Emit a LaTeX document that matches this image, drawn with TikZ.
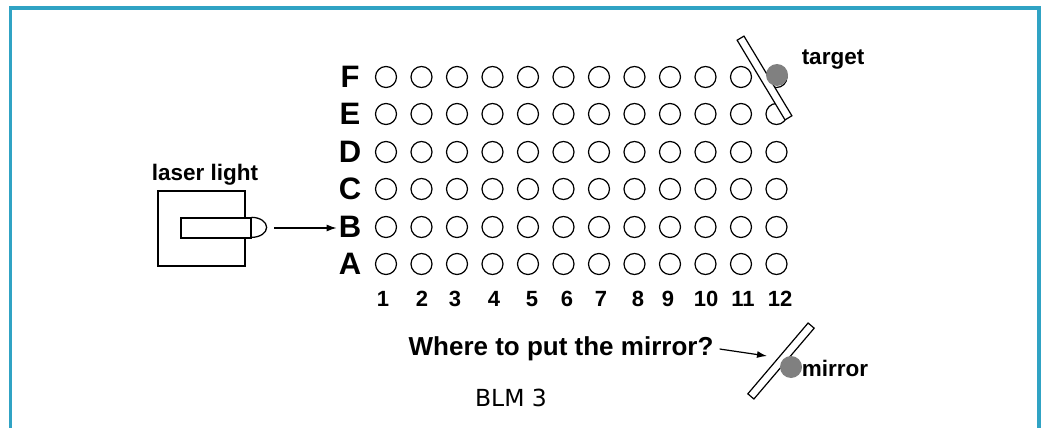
\documentclass[tikz,border=0pt]{standalone}
\usepackage{fontspec}
\setmainfont{Liberation Sans}
\newfontfamily\blmfont{DejaVu Sans}
\usetikzlibrary{arrows.meta}
\definecolor{frameteal}{RGB}{48,163,196}
\definecolor{dotgray}{RGB}{128,128,128}
\tikzset{
  hole/.style={circle, draw, line width=1.2pt, minimum size=21pt, inner sep=0pt},
  rowlabel/.style={font=\fontsize{31}{31}\selectfont\bfseries, inner sep=2pt},
  collabel/.style={font=\fontsize{22}{22}\selectfont\bfseries, inner sep=0pt},
  tag/.style={font=\fontsize{22.5}{22.5}\selectfont\bfseries, inner sep=0pt},
  mirrorbar/.style={draw, fill=white, line width=1.2pt, minimum width=93pt, minimum height=8pt, inner sep=0pt},
  graydot/.style={circle, fill=dotgray, minimum size=22pt, inner sep=0pt},
  beam/.style={line width=1.2pt, -{Latex[length=10pt,width=7pt]}}
}

\begin{document}
\begin{tikzpicture}[x=1pt, y=-1pt]
  \useasboundingbox (0,0) rectangle (1042,428);
  % frame
  \draw[frameteal, line width=3.6pt] (10.5,428) -- (10.5,8) -- (1039,8) -- (1039,428);

  % grid of holes
  \foreach \r/\y in {A/264,B/227,C/189,D/152,E/114,F/77} {
    \node[rowlabel] (lbl-\r) at (350,\y) {\r};
    \foreach \c in {1,...,12} {
      \ifnum\c=12 \ifx\r F\else
        \node[hole] (h-\r-\c) at ({386+35.5*(\c-1)},\y) {};
      \fi\else
        \node[hole] (h-\r-\c) at ({386+35.5*(\c-1)},\y) {};
      \fi
    }
  }
  \foreach \c/\x in {1/383,2/422,3/455,4/494,5/532,6/567,7/601,8/638,9/668,10/706,11/743,12/780}
    \node[collabel] (n-\c) at (\x,299) {\c};

  % laser
  \node[tag] (lasertxt) at (205,175) {laser light};
  \node[draw, line width=1.3pt, minimum width=87pt, minimum height=75pt, inner sep=0pt] (laserbox) at (201.5,228.5) {};
  \node[draw, fill=white, line width=1.3pt, minimum width=70pt, minimum height=20pt, inner sep=0pt] (tube) at (216,228) {};
  \draw[line width=1.3pt] (tube.north east) arc[start angle=90, end angle=-90, x radius=15pt, y radius=10pt];
  \coordinate (lenstip) at (274,228);
  \draw[beam] (lenstip) -- (lenstip -| lbl-B.west);

  % target
  \node[mirrorbar, rotate=-59] (tmirror) at (764.5,78) {};
  \node[graydot] (target) at (777,75) {};
  \node[tag] (targettxt) at (833,60) {target};

  % question
  \node[font=\fontsize{26}{26}\selectfont\bfseries, inner sep=2pt] (ask) at (561,349) {Where to put the mirror?};
  \node[mirrorbar, rotate=49.6] (bmirror) at (781,361) {};
  \node[graydot] (mdot) at (791,367) {};
  \node[tag] (mirrortxt) at (835,368) {mirror};
  \coordinate (aim) at (767,356);
  \draw[beam] ([xshift=4pt]ask.east) -- (aim);

  \node[font=\blmfont\fontsize{23.5}{23.5}\selectfont] (blm) at (511,398) {BLM 3};
\end{tikzpicture}
\end{document}
